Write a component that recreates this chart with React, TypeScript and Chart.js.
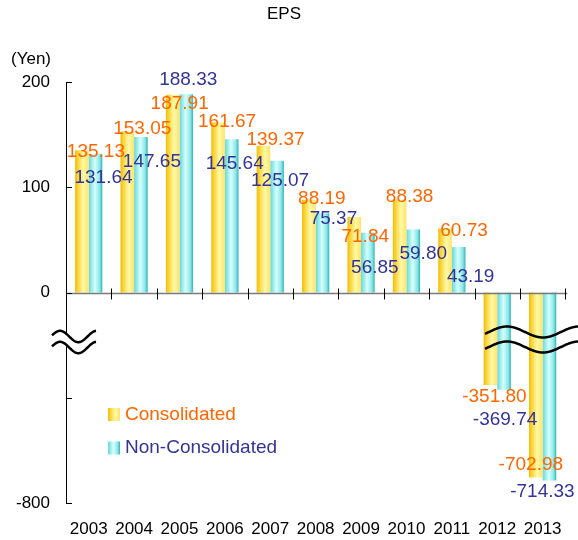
import React, { useEffect, useRef } from 'react';
import { Chart, registerables } from 'chart.js';

Chart.register(...registerables);

// ---- data ----
const years = ['2003', '2004', '2005', '2006', '2007', '2008', '2009', '2010', '2011', '2012', '2013'];
const consolidated = [135.13, 153.05, 187.91, 161.67, 139.37, 88.19, 71.84, 88.38, 60.73, -351.8, -702.98];
const nonConsolidated = [131.64, 147.65, 188.33, 145.64, 125.07, 75.37, 56.85, 59.8, 43.19, -369.74, -714.33];
const seriesNames = ['Consolidated', 'Non-Consolidated'];
const yTickValues = [200, 100, 0, -100, -200];
const yTickLabels = ['200', '100', '0', '', '-800'];
const unitLabel = '(Yen)';
const titleText = 'EPS';

// negative section of the broken axis is compressed 4:1
const NEG_SCALE = 4;
const toAxis = (v: number) => (v >= 0 ? v : v / NEG_SCALE);

// label offsets (px) relative to each bar's end
const consLabelDx = [14, 15, 7, 9, 12, 13, 11, 10, 19, 4, -5];
const consLabelDy = [1, -3, 9, -1, -6, -1, 20, -3, 2, 12, -13];
const nonLabelDx = [8, 11, 2, 3, 3, 11, 7, 10, 12, 1, -7];
const nonLabelDy = [24, 25, -15, 25, 20, 6, 35, 24, 30, 30, 11];

const FONT = "'Liberation Sans', Arial, sans-serif";
const ORANGE = '#FF6600';
const BLUE = '#333399';
const CAT_PCT = 0.6;

const yellowStops: [number, string][] = [
  [0, '#F3BC00'],
  [0.2, '#F9D43A'],
  [0.6, '#FFF9A6'],
  [1, '#FFE36A'],
];
const cyanStops: [number, string][] = [
  [0, '#64D8D8'],
  [0.45, '#D6FFFF'],
  [0.8, '#8EE6E6'],
  [1, '#2DB6B8'],
];

const makeFill = (stops: [number, string][], side: number) => (c: any) => {
  const chart = c.chart;
  const area = chart.chartArea;
  const xs = chart.scales && chart.scales.x;
  if (!area || !xs || c.dataIndex === undefined || c.type !== 'data') return stops[1][1];
  const cx = xs.getPixelForValue(c.dataIndex);
  const w = ((area.right - area.left) / years.length) * CAT_PCT / 2;
  const left = side === 0 ? cx - w : cx;
  const g = chart.ctx.createLinearGradient(left, 0, left + w, 0);
  stops.forEach(([o, col]) => g.addColorStop(o, col));
  return g;
};

function wave(ctx: CanvasRenderingContext2D, x0: number, x1: number, yc: number, amp: number, period: number, xs: number) {
  ctx.beginPath();
  for (let x = x0; x <= x1; x += 0.5) {
    const yy = yc + amp * Math.sin((2 * Math.PI * (x - xs)) / period);
    if (x === x0) ctx.moveTo(x, yy);
    else ctx.lineTo(x, yy);
  }
  ctx.stroke();
}

const decorPlugin = {
  id: 'decor',
  afterDatasetsDraw(chart: any) {
    const { ctx, chartArea, scales } = chart;
    const xS = scales.x;
    const yS = scales.y;
    const y0 = Math.round(yS.getPixelForValue(0)) + 0.5;
    const left = chartArea.left;
    const right = chartArea.right;
    const step = (right - left) / years.length;
    ctx.save();

    // zero line
    ctx.strokeStyle = '#7A7A7A';
    ctx.lineWidth = 1.5;
    ctx.beginPath();
    ctx.moveTo(left, y0);
    ctx.lineTo(right + 2, y0);
    ctx.stroke();

    // category boundary ticks
    ctx.strokeStyle = '#000';
    ctx.lineWidth = 1;
    for (let k = 1; k <= years.length; k++) {
      const px = Math.round(xS.getPixelForValue(k - 1) + step / 2) + 0.5;
      ctx.beginPath();
      ctx.moveTo(px, y0 - 5);
      ctx.lineTo(px, y0 + 6);
      ctx.stroke();
    }

    // inward y ticks
    yTickValues.forEach((v) => {
      const py = Math.round(yS.getPixelForValue(v)) + 0.5;
      ctx.beginPath();
      ctx.moveTo(left, py);
      ctx.lineTo(left + 6, py);
      ctx.stroke();
    });

    // break symbol on the axis
    const ayc = y0 + 43;
    ctx.fillStyle = '#fff';
    ctx.beginPath();
    for (let x = 52; x <= 96; x += 0.5) {
      const yy = ayc + 5.7 * Math.sin((2 * Math.PI * (x - 69.2)) / 36.6);
      if (x === 52) ctx.moveTo(x, yy);
      else ctx.lineTo(x, yy);
    }
    for (let x = 96; x >= 52; x -= 0.5) {
      const yy = ayc + 11 + 5.7 * Math.sin((2 * Math.PI * (x - 69.2)) / 36.6);
      ctx.lineTo(x, yy);
    }
    ctx.closePath();
    ctx.fill();
    ctx.strokeStyle = '#000';
    ctx.lineWidth = 2.5;
    wave(ctx, 52, 96, ayc, 5.7, 36.6, 69.2);
    wave(ctx, 52, 96, ayc + 11, 5.7, 36.6, 69.2);

    // break symbol across the large negative bars
    const byc = y0 + 38.5;
    wave(ctx, 485, 578, byc, 5.5, 72, 525);
    wave(ctx, 485, 578, byc + 15, 5.5, 72, 525);

    // data labels
    ctx.font = `19px ${FONT}`;
    ctx.textAlign = 'center';
    ctx.textBaseline = 'middle';
    const sets = [
      { vals: consolidated, dx: consLabelDx, dy: consLabelDy, color: ORANGE },
      { vals: nonConsolidated, dx: nonLabelDx, dy: nonLabelDy, color: BLUE },
    ];
    sets.forEach((s, di) => {
      const meta = chart.getDatasetMeta(di);
      ctx.fillStyle = s.color;
      meta.data.forEach((el: any, i: number) => {
        ctx.fillText(s.vals[i].toFixed(2), el.x + s.dx[i], el.y + s.dy[i]);
      });
    });
    ctx.restore();
  },
  afterDraw(chart: any) {
    const { ctx } = chart;
    ctx.save();
    // unit label
    ctx.font = `17px ${FONT}`;
    ctx.fillStyle = '#000';
    ctx.textAlign = 'center';
    ctx.textBaseline = 'middle';
    ctx.fillText(unitLabel, 31, 59);

    // legend
    const rows = [
      { name: seriesNames[0], stops: yellowStops, color: ORANGE, y: 414.5 },
      { name: seriesNames[1], stops: cyanStops, color: BLUE, y: 448 },
    ];
    rows.forEach((r) => {
      const bx = 108;
      const g = ctx.createLinearGradient(bx, 0, bx + 12, 0);
      r.stops.forEach(([o, c]) => g.addColorStop(o, c));
      ctx.fillStyle = g;
      ctx.fillRect(bx, r.y - 6.5, 12, 13);
      ctx.font = `19px ${FONT}`;
      ctx.fillStyle = r.color;
      ctx.textAlign = 'left';
      ctx.textBaseline = 'middle';
      ctx.fillText(r.name, 125, r.y);
    });
    ctx.restore();
  },
};

export default function App() {
  const ref = useRef<HTMLCanvasElement | null>(null);
  useEffect(() => {
    if (!ref.current) return;
    const chart = new Chart(ref.current, {
      type: 'bar',
      data: {
        labels: years,
        datasets: [
          {
            label: seriesNames[0],
            data: consolidated.map(toAxis),
            backgroundColor: makeFill(yellowStops, 0),
            borderWidth: 0,
            categoryPercentage: CAT_PCT,
            barPercentage: 1,
          },
          {
            label: seriesNames[1],
            data: nonConsolidated.map(toAxis),
            backgroundColor: makeFill(cyanStops, 1),
            borderWidth: 0,
            categoryPercentage: CAT_PCT,
            barPercentage: 1,
          },
        ],
      },
      options: {
        animation: false,
        responsive: false,
        devicePixelRatio: 1,
        layout: { padding: { top: 0, left: 0, right: 10, bottom: 0 } },
        plugins: {
          legend: { display: false },
          tooltip: { enabled: false },
          title: {
            display: true,
            text: titleText,
            color: '#000',
            font: { family: FONT, size: 17, weight: 'normal' },
            padding: { top: 4, bottom: 57.6 },
          },
        },
        scales: {
          x: {
            ticks: { font: { family: FONT, size: 17 }, color: '#000', padding: 16, maxRotation: 0, autoSkip: false },
            grid: { display: false, drawTicks: false },
            border: { display: false },
            afterFit: (s: any) => {
              s.height = 37;
            },
          },
          y: {
            min: -200,
            max: 200,
            afterBuildTicks: (s: any) => {
              s.ticks = yTickValues.map((v) => ({ value: v }));
            },
            ticks: {
              font: { family: FONT, size: 17 },
              color: '#000',
              padding: 16,
              callback: (v: any) => {
                const i = yTickValues.indexOf(Number(v));
                return i >= 0 ? yTickLabels[i] : '';
              },
            },
            grid: { display: false, drawTicks: false },
            border: { display: true, color: '#000', width: 1 },
            afterFit: (s: any) => {
              s.width = 66;
            },
          },
        },
      },
      plugins: [decorPlugin],
    } as any);
    return () => chart.destroy();
  }, []);
  return (
    <div style={{ position: 'absolute', left: 0, top: 0, width: 578, height: 540 }}>
      <canvas ref={ref} width={578} height={540} style={{ display: 'block' }} />
    </div>
  );
}
